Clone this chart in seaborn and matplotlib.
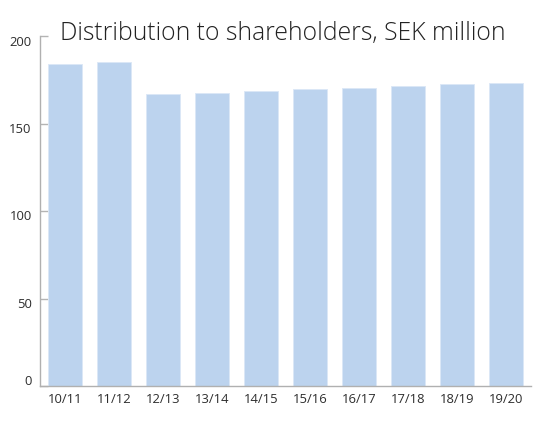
import pandas as pd
import seaborn as sns
import matplotlib.pyplot as plt
import matplotlib.transforms as mtransforms

# Data
years = ["10/11", "11/12", "12/13", "13/14", "14/15",
         "15/16", "16/17", "17/18", "18/19", "19/20"]
distribution = [184.2, 185.3, 166.9, 167.6, 168.7,
                169.5, 170.5, 171.6, 172.6, 173.1]
y_ticks = [0, 50, 100, 150, 200]

df = pd.DataFrame({"year": years, "value": distribution})

sns.set_style("white")
plt.rcParams["font.family"] = ["Open Sans", "DejaVu Sans"]

fig = plt.figure(figsize=(5.53, 4.33), dpi=100)
ax = fig.add_axes([40 / 553, 47 / 433, 491 / 553, 350 / 433])

sns.barplot(data=df, x="year", y="value", color="#bcd3ee", saturation=1,
            width=0.69, edgecolor="#dbe7f6", linewidth=0.6, ax=ax)

ax.set_xlim(-0.51, 9.51)
ax.set_ylim(0, 200)
ax.set_yticks(y_ticks)
ax.set_xlabel("")
ax.set_ylabel("")

for side in ["top", "right"]:
    ax.spines[side].set_visible(False)
for side in ["left", "bottom"]:
    ax.spines[side].set_color("#b0b0b0")
    ax.spines[side].set_linewidth(1)

# seaborn's white style hides tick marks, so switch the y ones back on
ax.tick_params(axis="y", left=True, direction="in", length=5.8, width=1,
               color="#b4b4b4", labelsize=9.4, labelcolor="#2e2e2e", pad=6)
ax.tick_params(axis="x", bottom=False, length=0, labelsize=9.4,
               labelcolor="#2e2e2e", pad=5)

# y labels sit a little below their ticks, the zero label a little above
for val, lab in zip(y_ticks, ax.get_yticklabels()):
    dy = 0.06 if val == 0 else -0.045
    lab.set_transform(lab.get_transform() +
                      mtransforms.ScaledTranslation(0, dy, fig.dpi_scale_trans))

fig.text(0.512, 1 - 40 / 433, "Distribution to shareholders, SEK million",
         ha="center", va="baseline", fontsize=17.8, fontweight="light",
         color="#222222")

fig.savefig("out.png", dpi=100)
